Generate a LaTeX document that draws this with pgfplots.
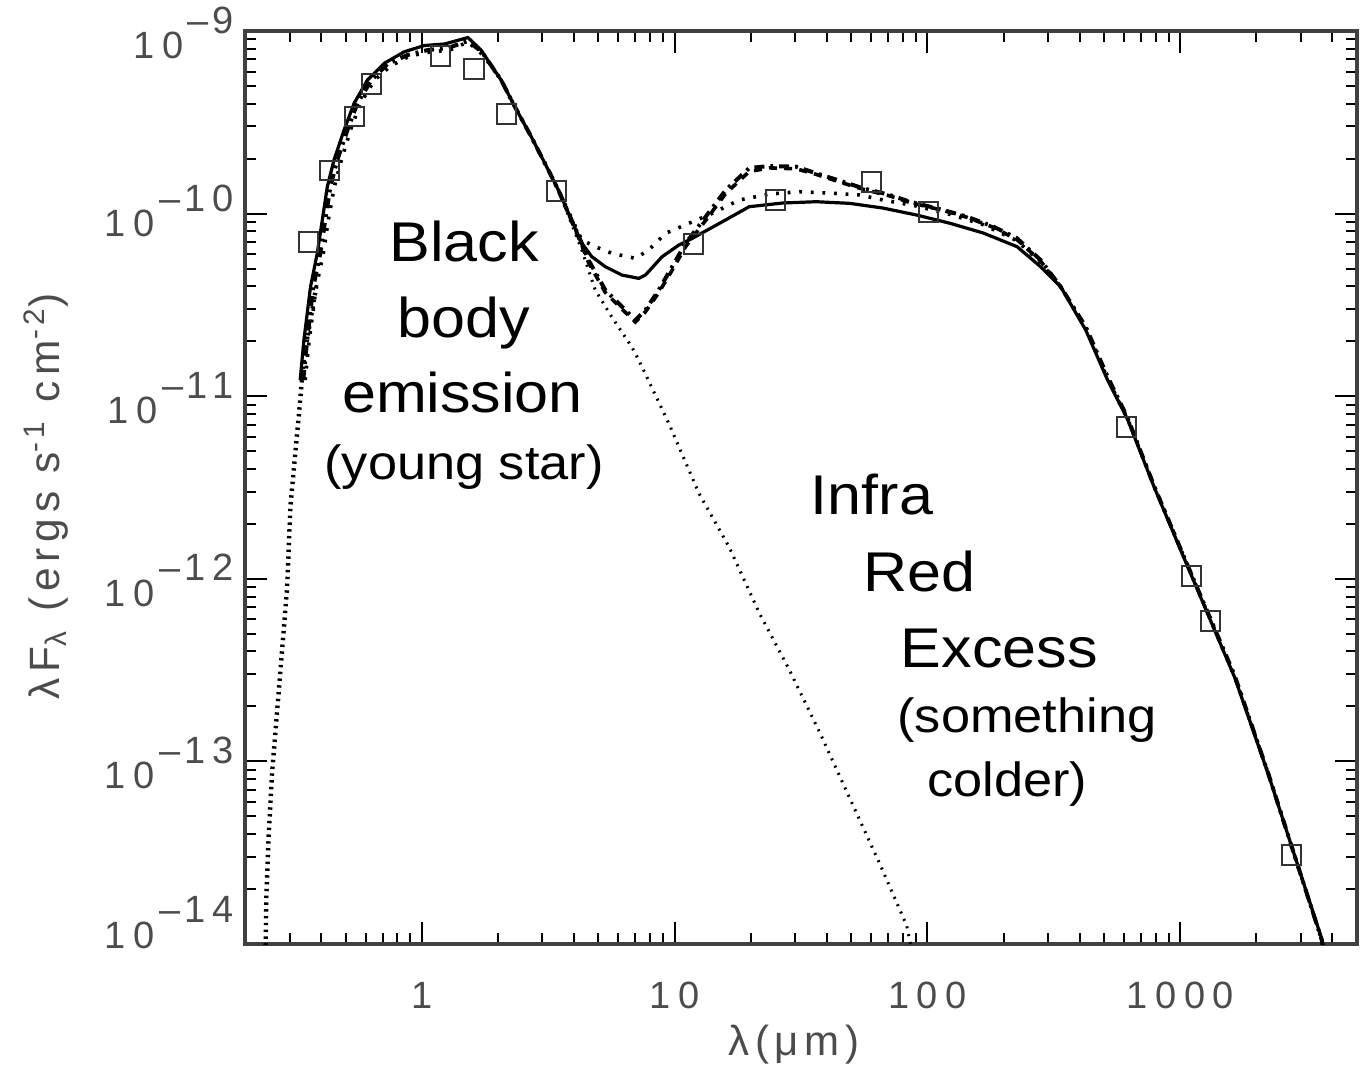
\documentclass[border=0pt]{standalone}
\usepackage{fontspec}
\setmainfont{Liberation Sans}
\newfontfamily\annfont[FakeStretch=1.09]{Liberation Sans}
\newfontfamily\tickfont[LetterSpace=20]{Liberation Sans}
\newfontfamily\labfont[LetterSpace=14]{Liberation Sans}
\usepackage{pgfplots}
\pgfplotsset{compat=1.18}
\newcommand{\ex}[1]{10\hspace{0.12em}\raisebox{0.66em}{–\hspace{0.1em}#1}}
\begin{document}
\begin{tikzpicture}
\begin{axis}[
  at={(0,0)}, anchor=south west,
  width=278pt, height=228.25pt, scale only axis,
  xmode=log, ymode=log,
  xmin=0.2, xmax=5000, ymin=1e-14, ymax=1e-9,
  xtick={1,10,100,1000}, xticklabels={1,10,100,1000},
  ytick={1e-14,1e-13,1e-12,1e-11,1e-10,1e-9},
  yticklabels={\raisebox{5.8pt}{\ex{14}},\ex{13},\ex{12},\ex{11},\raisebox{1pt}{\ex{10}},\ex{9}},
  minor xtick={0.2,0.3,0.4,0.5,0.6,0.7,0.8,0.9,2,3,4,5,6,7,8,9,20,30,40,50,60,70,80,90,200,300,400,500,600,700,800,900,2000,3000,4000,5000},
  minor ytick={2e-14,3e-14,4e-14,5e-14,6e-14,7e-14,8e-14,9e-14,2e-13,3e-13,4e-13,5e-13,6e-13,7e-13,8e-13,9e-13,2e-12,3e-12,4e-12,5e-12,6e-12,7e-12,8e-12,9e-12,2e-11,3e-11,4e-11,5e-11,6e-11,7e-11,8e-11,9e-11,2e-10,3e-10,4e-10,5e-10,6e-10,7e-10,8e-10,9e-10},
  tick align=inside,
  major tick length=5.5pt, minor tick length=2.8pt,
  every tick/.style={black, line width=0.5pt},
  axis line style={black!75, line width=0.8pt},
  ticklabel style={font=\tickfont\fontsize{9.5}{11}\selectfont, text=black!70},
  xticklabel style={yshift=-6pt},
  yticklabel style={anchor=base east, xshift=0.8pt, yshift=-6.8pt},
]
% noisy short-wavelength spectrum
\addplot[black, line width=1.1pt, dash pattern=on 0.6pt off 1.1pt] coordinates {
(0.240,9e-15)(0.2415,1.0e-14)(0.2428,1.816e-14)(0.2482,3.953e-14)(0.2559,8.64e-14)(0.2679,1.876e-13)(0.2804,4.074e-13)(0.2935,8.90e-13)(0.3025,2.511e-12)(0.3266,7.89e-12)(0.3420,1.627e-11)(0.3748,3.364e-11)(0.3827,3.977e-11)};
% stellar photosphere
\addplot[black, line width=0.75pt, dash pattern=on 0.5pt off 1.5pt] coordinates {
(3.470,1.347e-10)(4.296,6.32e-11)(4.855,3.82e-11)(5.636,2.725e-11)(6.767,1.867e-11)(7.214,1.58e-11)(9.49,7.09e-12)(12.49,2.936e-12)(16.43,1.494e-12)(21.62,6.51e-13)(28.46,3.165e-13)(37.44,1.449e-13)(49.26,6.30e-14)(64.8,2.749e-14)(82.8,1.263e-14)(87,9e-15)};
% dotted model
\addplot[black, line width=0.9pt, dash pattern=on 0.7pt off 2.2pt] coordinates {
(0.3460,1.227e-11)(0.3589,2.031e-11)(0.3827,3.977e-11)(0.4081,6.06e-11)(0.4270,9.23e-11)(0.4511,1.404e-10)(0.4811,1.966e-10)(0.5223,2.870e-10)(0.5724,4.018e-10)(0.6506,5.391e-10)(0.7529,6.43e-10)(0.8960,7.30e-10)(1.076,7.67e-10)(1.292,7.87e-10)(1.523,8.71e-10)(1.747,7.39e-10)(2.060,5.39e-10)(2.335,3.85e-10)(2.711,2.637e-10)(3.167,1.733e-10)(3.470,1.347e-10)(4.296,7.17e-11)(4.855,6.59e-11)(5.651,6.06e-11)(7.000,5.69e-11)(7.906,6.32e-11)(9.21,7.80e-11)(11.40,8.85e-11)(14.11,1.004e-10)(18.01,1.187e-10)(23.70,1.280e-10)(31.18,1.318e-10)(42.27,1.292e-10)(53.98,1.265e-10)(66.8,1.187e-10)(90.7,1.10e-10)(122.9,9.9e-11)(166.3,8.7e-11)(226.3,7.1e-11)(280.2,5.4e-11)(336.4,3.98e-11)(422.8,2.35e-11)(515.7,1.25e-11)(619.3,7.5e-12)(789.8,3.2e-12)(1039,1.3e-12)(1642,2.9e-13)(2228,8.6e-14)(2843,3.0e-14)(3629,1.05e-14)(3700,9e-15)};
% dashed model
\addplot[black, line width=0.9pt, dash pattern=on 2pt off 1.8pt] coordinates {
(3.470,1.347e-10)(4.296,6.7e-11)(4.565,5.4e-11)(5.320,3.7e-11)(6.192,3.0e-11)(7.000,2.55e-11)(7.671,2.9e-11)(8.663,3.7e-11)(9.78,4.9e-11)(11.06,6.6e-11)(13.28,9.2e-11)(15.94,1.29e-10)(19.74,1.70e-10)(23.70,1.78e-10)(30.25,1.76e-10)(36.33,1.64e-10)(46.35,1.47e-10)(55.64,1.36e-10)(71.0,1.25e-10)(85.3,1.15e-10)(115.7,1.04e-10)(143.3,9.55e-11)(182.7,8.4e-11)(226.3,7.2e-11)(280.2,5.5e-11)(336.4,3.98e-11)};
% dash-dot model
\addplot[black, line width=1pt, dash pattern=on 2.5pt off 1.5pt on 0.7pt off 1.5pt] coordinates {
(0.3398,1.227e-11)(0.3524,2.031e-11)(0.3724,3.963e-11)(0.3970,6.06e-11)(0.4155,9.23e-11)(0.4350,1.40e-10)(0.4637,1.966e-10)(0.5082,2.870e-10)(0.5568,4.02e-10)(0.6329,5.39e-10)(0.7328,6.60e-10)(0.8799,7.39e-10)(1.056,7.87e-10)(1.268,8.07e-10)(1.523,8.82e-10)(1.731,7.67e-10)(2.060,5.39e-10)(2.335,3.85e-10)(2.711,2.637e-10)(3.167,1.733e-10)(3.470,1.347e-10)(4.296,6.88e-11)(4.565,5.57e-11)(5.320,3.82e-11)(6.192,3.09e-11)(7.000,2.61e-11)(7.671,2.97e-11)(8.663,3.82e-11)(9.78,5.12e-11)(11.06,6.88e-11)(13.28,9.62e-11)(15.94,1.347e-10)(19.74,1.777e-10)(23.70,1.823e-10)(30.25,1.807e-10)(36.33,1.663e-10)(46.35,1.495e-10)(55.64,1.376e-10)(71.0,1.265e-10)(85.3,1.162e-10)(115.7,1.046e-10)(143.3,9.62e-11)(182.7,8.48e-11)(226.3,7.32e-11)(280.2,5.57e-11)(336.4,3.98e-11)(422.8,2.4e-11)(515.7,1.28e-11)(619.3,7.6e-12)(789.8,3.2e-12)(1039,1.3e-12)(1642,2.95e-13)(2228,8.6e-14)(2843,3.0e-14)(3629,1.05e-14)(3700,9e-15)};
% solid model
\addplot[black, line width=0.8pt] coordinates {
(0.3306,1.227e-11)(0.3420,2.031e-11)(0.3633,3.977e-11)(0.3862,6.06e-11)(0.4044,9.23e-11)(0.4232,1.404e-10)(0.4498,1.966e-10)(0.4930,2.870e-10)(0.5402,4.018e-10)(0.6101,5.391e-10)(0.7109,6.653e-10)(0.8537,7.70e-10)(1.025,8.33e-10)(1.231,8.49e-10)(1.523,9.21e-10)(1.716,7.87e-10)(2.060,5.39e-10)(2.335,3.85e-10)(2.711,2.637e-10)(3.167,1.733e-10)(3.470,1.347e-10)(4.296,6.88e-11)(4.706,5.81e-11)(5.320,5.12e-11)(6.192,4.61e-11)(7.214,4.42e-11)(7.671,4.61e-11)(8.929,5.81e-11)(10.40,6.73e-11)(11.75,7.32e-11)(15.46,9.03e-11)(19.74,1.091e-10)(26.69,1.143e-10)(36.33,1.162e-10)(49.26,1.138e-10)(66.6,1.073e-10)(90.7,9.82e-11)(122.9,8.85e-11)(166.3,7.83e-11)(226.3,6.59e-11)(280.2,5.12e-11)(336.4,3.98e-11)(422.8,2.304e-11)(515.7,1.227e-11)(619.3,7.46e-12)(789.8,3.16e-12)(1039,1.283e-12)(1642,2.88e-13)(2228,8.53e-14)(2843,3.005e-14)(3629,1.065e-14)(3700,9e-15)};
% photometry
\addplot[only marks, mark=square, mark size=2.4pt, mark options={draw=black!80, line width=0.5pt, fill=none}] coordinates {
(0.356,6.99e-11)(0.431,1.73e-10)(0.542,3.42e-10)(0.633,5.13e-10)(1.19,7.3e-10)(1.61,6.19e-10)(2.16,3.51e-10)(3.41,1.33e-10)(11.9,6.82e-11)(25.0,1.187e-10)(60.3,1.49e-10)(101,1.02e-10)(615,6.78e-12)(1104,1.035e-12)(1314,5.87e-13)(2755,3.07e-14)};
\end{axis}
% axis labels
\node[rotate=90, font=\labfont\fontsize{10.6}{12}\selectfont, text=black!70] at (-49.75pt,111.9pt) {λF\textsubscript{λ} (ergs s\textsuperscript{-1} cm\textsuperscript{-2})};
\node[font=\labfont\fontsize{10.5}{12}\selectfont, text=black!70] at (137.25pt,-25.25pt) {λ(μm)};
% annotations
\begin{scope}[every node/.style={inner sep=0pt, font=\annfont\fontsize{14}{16}\selectfont}]
\node[anchor=base] at (54.75pt,170.575pt) {Black};
\node[anchor=base] at (54.625pt,151.5pt) {body};
\node[anchor=base] at (54.375pt,132.75pt) {emission};
\node[anchor=base, font=\annfont\fontsize{12}{14}\selectfont] at (54.75pt,116pt) {(young star)};
\node[anchor=base west] at (141.25pt,107.25pt) {Infra};
\node[anchor=base west] at (154.5pt,88.075pt) {Red};
\node[anchor=base west] at (163.75pt,69pt) {Excess};
\node[anchor=base west, font=\annfont\fontsize{12}{14}\selectfont] at (162.925pt,52.75pt) {(something};
\node[anchor=base west, font=\annfont\fontsize{12}{14}\selectfont] at (170.425pt,36.825pt) {colder)};
\end{scope}
\pgfresetboundingbox
\path[use as bounding box] (-61.25pt,-31pt) rectangle (279.25pt,236pt);
\end{tikzpicture}
\end{document}
